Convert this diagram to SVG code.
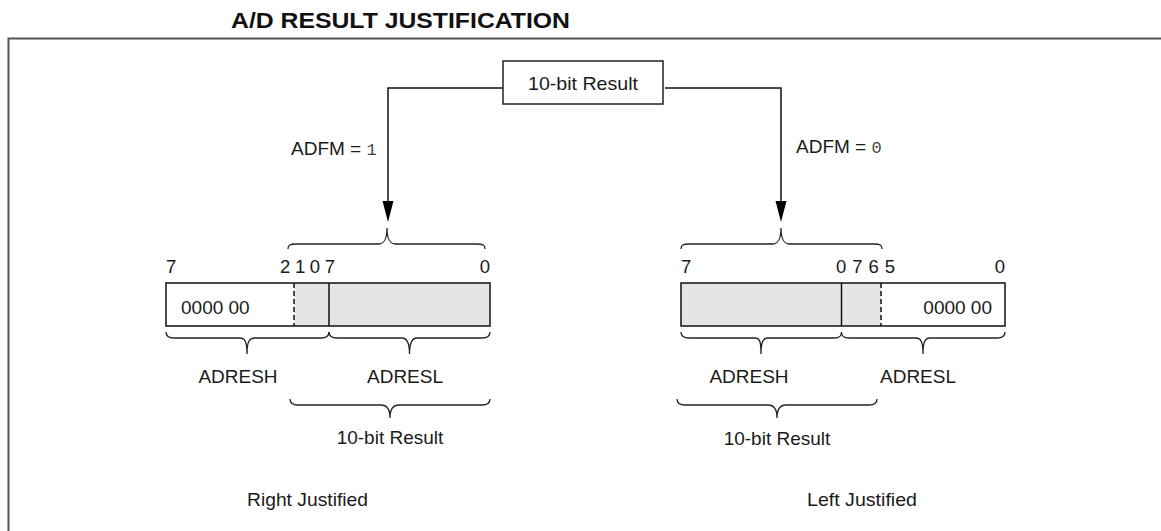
<svg xmlns="http://www.w3.org/2000/svg" width="1161" height="531" viewBox="0 0 1161 531">
<style>
text{font-family:"Liberation Sans",Arial,sans-serif;fill:#1a1a1a;font-size:19px}
.title{font-weight:bold;font-size:22px;fill:#111}
.bit{font-size:18.5px}
.mono{font-family:"Liberation Mono","Courier New",monospace;font-size:17px;fill:#444}
.conn{fill:none;stroke:#111;stroke-width:1.5}
.brace{fill:none;stroke:#222;stroke-width:1.3}
.reg{fill:none;stroke:#111;stroke-width:1.5}
.gray{fill:#e5e5e5}
.dash{stroke:#111;stroke-width:1.5;stroke-dasharray:5,3}
.div{stroke:#111;stroke-width:1.5}
.head{fill:#000}
</style>
<rect width="1161" height="531" fill="#fff"/>
<text class="title" x="231" y="28" textLength="339" lengthAdjust="spacingAndGlyphs">A/D RESULT JUSTIFICATION</text>
<path d="M8.5,531 V38.5 H1161" fill="none" stroke="#555" stroke-width="2"/>

<g id="connectors">
<path class="conn" d="M504,88 H388 V201"/>
<path class="conn" d="M665,88 H781 V201"/>
<path class="head" d="M382.5,201 H393.5 L388,222 Z"/>
<path class="head" d="M775.5,201 H786.5 L781,222 Z"/>
<text x="291" y="155">ADFM = <tspan class="mono">1</tspan></text>
<text x="796" y="153">ADFM = <tspan class="mono">0</tspan></text>
</g>

<g id="result-box">
<rect x="503" y="61" width="160" height="43" fill="#fff" stroke="#222" stroke-width="1.5"/>
<text x="583" y="90" text-anchor="middle" textLength="110" lengthAdjust="spacingAndGlyphs">10-bit Result</text>
</g>

<g id="right-justified">
<path class="brace" d="M288,249 C288,245 290,244 296,244 L378,244 C384,244 387,240 387,228 C387,240 390,244 396,244 L477,244 C483,244 485,245 485,249"/>
<text class="bit" x="166" y="273">7</text>
<text class="bit" x="335" y="273" text-anchor="end" textLength="55" lengthAdjust="spacing">2 1 0 7</text>
<text class="bit" x="490" y="273" text-anchor="end">0</text>
<rect class="gray" x="294" y="283" width="196" height="43"/>
<line class="dash" x1="294" y1="283" x2="294" y2="326"/>
<line class="div" x1="329" y1="283" x2="329" y2="326"/>
<rect class="reg" x="166" y="283" width="324" height="43"/>
<text x="181" y="314">0000 00</text>
<path class="brace" d="M166,332 C166,336 168,338 174,338 L240,338 C245,338 247,342 247,354 C247,342 249,338 255,338 L321,338 C327,338 329,336 329,332"/>
<path class="brace" d="M329,332 C329,336 331,338 337,338 L402,338 C407,338 409.5,342 409.5,354 C409.5,342 412,338 417,338 L482,338 C488,338 490,336 490,332"/>
<text x="238" y="383" text-anchor="middle">ADRESH</text>
<text x="405" y="383" text-anchor="middle">ADRESL</text>
<path class="brace" d="M290,399 C290,403 292,405 298,405 L381,405 C387,405 390,409 390,418 C390,409 393,405 399,405 L482,405 C488,405 490,403 490,399"/>
<text x="390" y="444" text-anchor="middle">10-bit Result</text>
<text x="247" y="506" textLength="121" lengthAdjust="spacingAndGlyphs">Right Justified</text>
</g>

<g id="left-justified">
<path class="brace" d="M681,249 C681,245 683,244 689,244 L772,244 C778,244 781,240 781,228 C781,240 784,244 790,244 L874,244 C880,244 882,245 882,249"/>
<text class="bit" x="681" y="273">7</text>
<text class="bit" x="895" y="273" text-anchor="end" textLength="59" lengthAdjust="spacing">0 7 6 5</text>
<text class="bit" x="1005" y="273" text-anchor="end">0</text>
<rect class="gray" x="681" y="283" width="200" height="43"/>
<line class="div" x1="841.5" y1="283" x2="841.5" y2="326"/>
<line class="dash" x1="881" y1="283" x2="881" y2="326"/>
<rect class="reg" x="681" y="283" width="324" height="43"/>
<text x="992" y="314" text-anchor="end">0000 00</text>
<path class="brace" d="M681,332 C681,336 683,338 689,338 L755,338 C760,338 761,342 761,354 C761,342 763,338 768,338 L834,338 C840,338 841.5,336 841.5,332"/>
<path class="brace" d="M841.5,332 C841.5,336 843,338 849,338 L916,338 C921,338 923,342 923,354 C923,342 925,338 930,338 L997,338 C1003,338 1005,336 1005,332"/>
<text x="749" y="383" text-anchor="middle">ADRESH</text>
<text x="918" y="383" text-anchor="middle">ADRESL</text>
<path class="brace" d="M677,399 C677,403 679,405 685,405 L768,405 C774,405 777,409 777,418 C777,409 780,405 786,405 L869,405 C875,405 877,403 877,399"/>
<text x="777" y="445" text-anchor="middle">10-bit Result</text>
<text x="807" y="506" textLength="110" lengthAdjust="spacingAndGlyphs">Left Justified</text>
</g>
</svg>
